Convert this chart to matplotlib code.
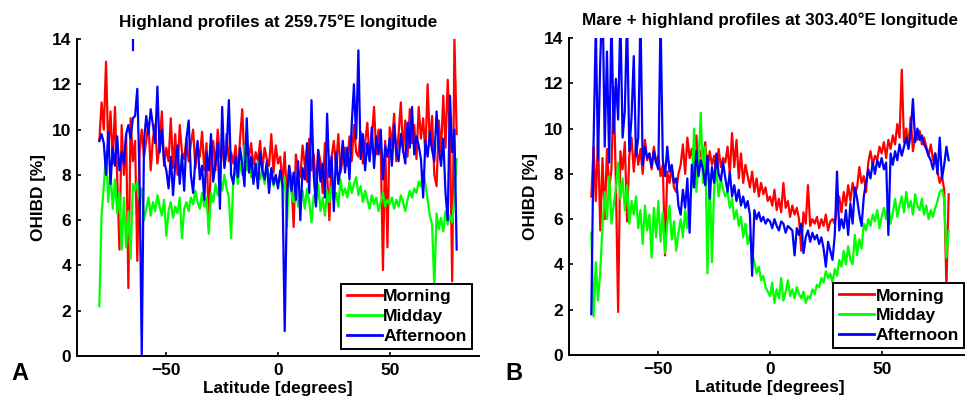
import numpy as np
import matplotlib
matplotlib.use("Agg")
import matplotlib.pyplot as plt

# latitud de -80 a 80 en pasos de 1 grado
latitud = np.arange(-80, 81)

# --- Panel A: highland, 259.75E ---
manana_a = [
    9.5, 11.2, 10.0, 13.0, 9.0, 10.8, 8.5, 11.0, 7.8, 4.7,
    10.2, 8.0, 9.8, 3.0, 10.5, 8.6, 9.5, 4.2, 9.0, 10.0,
    8.8, 9.5, 10.3, 8.2, 9.6, 10.2, 8.5, 9.3, 10.8, 8.4,
    9.2, 8.6, 10.5, 8.3, 9.8, 8.0, 10.2, 9.0, 8.7, 9.6,
    8.6, 9.4, 10.0, 8.3, 9.2, 8.8, 9.9, 8.2, 9.4, 5.7,
    8.7, 9.5, 8.2, 10.0, 8.8, 9.2, 8.4, 9.8, 8.6, 9.0,
    8.5, 9.3, 8.0, 9.6, 10.9, 8.4, 9.1, 8.8, 9.4, 8.3,
    9.0, 8.6, 9.5, 8.2, 9.2, 8.7, 8.4, 9.8, 8.1, 9.3,
    8.5, 8.8, 7.6, 9.0, 6.9, 8.4, 7.8, 5.7, 8.9, 8.2,
    7.9, 9.3, 8.4, 7.7, 9.6, 8.2, 8.9, 7.5, 9.1, 8.6,
    7.2, 9.4, 8.0, 6.0, 8.8, 9.5, 8.3, 9.8, 8.1, 8.7,
    9.2, 8.4, 9.7, 8.6, 10.2, 9.0, 8.8, 9.9, 8.5, 9.4,
    10.3, 8.7, 9.6, 11.0, 8.9, 10.0, 9.2, 3.8, 9.5, 4.8,
    10.1, 9.3, 10.7, 8.6, 9.8, 11.2, 9.0, 10.4, 8.8, 10.9,
    9.4, 10.2, 8.7, 11.0, 9.6, 10.5, 8.9, 12.0, 9.3, 10.6,
    8.0, 7.5, 10.4, 9.0, 11.5, 9.2, 12.2, 9.6, 3.3, 14.0, 9.8,
]
mediodia_a = [
    2.2, 6.2, 7.5, 9.0, 6.8, 8.2, 6.5, 7.8, 6.3, 7.2,
    4.7, 7.0, 4.8, 6.4, 4.3, 7.6, 7.3, 7.7, 6.9, 7.4,
    6.0, 6.5, 7.0, 6.2, 6.8, 6.4, 7.1, 6.6, 6.2, 6.9,
    5.3, 6.4, 6.8, 6.1, 6.6, 6.3, 7.0, 5.2, 6.5, 6.8,
    6.4, 7.0, 6.7, 7.3, 6.8, 6.5, 7.2, 6.6, 7.0, 5.4,
    7.2, 6.8, 7.6, 7.1, 7.8, 7.3, 8.0, 7.4, 7.0, 5.2,
    7.8, 8.3, 7.6, 8.5, 8.0, 9.3, 8.2, 8.8, 7.9, 8.4,
    8.0, 8.6, 7.8, 8.2, 7.6, 8.4, 7.9, 8.1, 7.5, 7.8,
    7.6, 8.0, 7.4, 7.9, 5.7, 8.3, 7.2, 6.8, 7.5, 6.6,
    6.9, 7.3, 6.5, 7.4, 6.8, 5.9, 7.1, 6.7, 7.6, 6.4,
    7.0, 6.2, 7.3, 6.8, 7.5, 6.9, 7.2, 6.6, 7.8, 7.1,
    7.4, 7.0, 7.7, 7.2, 7.6, 7.9, 7.1, 7.5, 6.8, 7.3,
    6.9, 6.5, 7.1, 6.7, 7.0, 6.4, 6.8, 7.2, 6.6, 6.9,
    6.7, 7.0, 6.5, 6.9, 6.6, 7.1, 6.8, 6.4, 6.9, 7.3,
    7.0, 7.4, 7.2, 7.7, 7.5, 8.2, 7.6, 6.9, 6.2, 5.8,
    3.0, 6.3, 5.6, 6.1, 5.5, 6.4, 5.8, 6.2, 5.9, 7.0, 8.7,
]
tarde_a = [
    9.5, 9.8, 9.4, 8.0, 9.9, 7.6, 9.2, 8.4, 9.7, 8.2,
    9.0, 8.5, 9.8, 10.2, 9.6, 10.5, 10.6, 11.8, 8.0, 0.0,
    9.5, 10.6, 9.8, 10.9, 10.2, 9.4, 11.9, 9.0, 10.0, 8.6,
    8.2, 7.4, 8.8, 7.1, 8.5, 9.3, 7.6, 8.9, 7.3, 9.6,
    10.4, 8.0, 7.2, 8.7, 9.5, 7.8, 8.4, 6.9, 9.0, 8.2,
    9.8, 7.7, 8.5, 9.4, 6.5, 11.0, 8.3, 9.1, 11.3, 8.0,
    7.6, 8.8, 7.9, 9.2, 8.4, 7.5, 10.5, 8.1, 8.8, 7.6,
    8.5, 7.4, 9.0, 8.2, 7.8, 8.6, 7.2, 8.3, 7.6, 8.0,
    7.4, 8.2, 7.6, 1.1, 7.0, 8.4, 7.3, 8.1, 6.9, 8.6,
    6.0, 8.3, 7.8, 9.4, 7.2, 11.3, 8.0, 6.6, 9.1, 7.7,
    8.5, 7.0, 10.7, 7.9, 8.8, 6.4, 9.0, 7.6, 8.3, 9.5,
    8.1, 9.2, 7.8, 10.2, 12.0, 9.6, 13.5, 8.7, 9.8, 8.2,
    9.4, 8.6, 10.1, 8.3, 9.7, 8.9, 10.0, 7.8, 9.3, 8.8,
    9.6, 8.4, 10.2, 9.0, 8.6, 9.8, 9.1, 8.5, 10.3, 9.2,
    11.0, 8.9, 9.7, 9.3, 8.7, 7.0, 9.5, 8.8, 9.9, 9.1,
    8.6, 10.8, 9.2, 8.4, 9.6, 7.2, 6.0, 11.5, 9.0, 10.0, 4.7,
]
# trozo suelto de la curva azul que sale por arriba cerca de -65
tarde_a_pico_lat = [-64.8, -64.8]
tarde_a_pico = [13.5, 14.5]

# --- Panel B: mare + highland, 303.40E ---
manana_b = [
    7.0, 9.2, 6.8, 9.6, 5.5, 8.7, 6.0, 9.1, 7.3, 8.2,
    11.8, 7.6, 1.9, 9.0, 8.2, 9.4, 5.9, 8.8, 9.6, 8.1,
    9.3, 8.4, 9.1, 8.0, 9.5, 8.6, 8.9, 8.2, 9.2, 8.5,
    8.8, 7.9, 8.4, 4.4, 8.1, 7.6, 8.3, 7.4, 7.2, 8.0,
    8.4, 9.3, 8.0, 9.6, 8.7, 9.1, 8.2, 9.7, 8.5, 9.0,
    8.6, 9.4, 8.1, 9.0, 8.4, 8.8, 7.9, 9.1, 8.3, 8.7,
    8.5, 9.2, 8.0, 9.8, 8.3, 9.5, 7.8, 8.9, 7.6, 8.4,
    7.9, 7.4, 8.1, 7.2, 7.8, 7.0, 7.6, 7.1, 7.4, 6.8,
    7.0, 6.6, 7.3, 6.4, 6.9, 6.3, 7.6, 6.5, 6.8, 6.1,
    6.6, 6.2, 6.5, 6.0, 4.6, 6.3, 5.8, 7.5, 5.7, 6.0,
    5.8, 6.1, 5.6, 6.0, 5.7, 6.2, 5.5, 5.9, 6.0, 5.8,
    6.5, 7.0, 6.3, 7.2, 6.6, 7.5, 6.8, 7.6, 7.1, 7.4,
    8.3, 7.6, 7.9, 7.2, 8.5, 9.0, 8.4, 8.8, 8.6, 9.2,
    8.9, 9.4, 8.7, 9.5, 9.1, 9.7, 9.3, 10.2, 9.6, 12.6,
    9.4, 10.0, 9.2, 10.5, 9.0, 9.8, 9.5, 9.9, 9.3, 9.6,
    9.2, 8.8, 9.3, 8.6, 8.9, 8.1, 7.6, 7.9, 7.3, 3.0, 7.1,
]
mediodia_b = [
    5.4, 1.7, 4.1, 2.4, 3.7, 5.7, 7.2, 6.0, 7.9, 5.8,
    6.6, 7.4, 8.5, 6.9, 7.8, 6.4, 7.5, 5.8, 6.8, 6.2,
    7.0, 5.6, 6.4, 4.9, 6.6, 5.5, 6.2, 4.3, 6.5, 5.2,
    6.8, 5.0, 6.3, 4.5, 5.8, 6.6, 5.1, 5.9, 4.6, 5.4,
    6.0, 5.2, 6.4, 5.6, 6.8, 7.5, 10.0, 7.2, 8.4, 10.7,
    7.6, 9.2, 3.6, 8.0, 4.1, 7.4, 8.2, 7.0, 7.8, 7.3,
    7.0, 7.2, 6.5, 6.9, 6.0, 6.4, 5.7, 6.1, 5.2, 5.8,
    4.9, 5.3, 4.5, 4.1, 3.6, 3.9, 3.3, 3.5, 3.0, 2.8,
    2.6, 3.2, 2.3, 2.9, 2.5, 3.4, 2.4, 2.8, 3.3, 2.6,
    2.9, 2.5, 3.0, 2.7, 2.5, 2.8, 2.3, 2.6, 2.5, 2.9,
    2.7, 3.1, 3.0, 3.4, 3.2, 3.7, 3.4, 3.6, 3.2, 3.8,
    3.5, 4.2, 3.9, 4.6, 4.0, 4.8, 4.2, 4.0, 5.3, 4.4,
    5.1, 4.7, 5.8, 5.5, 6.0, 5.7, 6.2, 5.9, 6.4, 5.6,
    6.1, 6.5, 6.0, 6.7, 5.8, 6.3, 6.9, 6.1, 6.6, 7.0,
    6.3, 7.2, 6.5, 6.8, 6.2, 7.1, 6.6, 6.4, 6.9, 6.2,
    6.6, 6.0, 6.4, 6.1, 6.5, 6.8, 7.2, 7.3, 6.9, 4.3, 5.5,
]
tarde_b = [
    1.8, 9.4, 14.5, 8.6, 13.0, 16.0, 9.2, 13.4, 8.5, 15.0,
    9.8, 12.2, 10.4, 15.0, 9.6, 10.8, 15.0, 9.0, 10.5, 13.2,
    8.8, 9.6, 15.0, 8.4, 9.2, 8.7, 8.9, 8.3, 9.0, 8.5,
    8.2, 15.0, 8.6, 7.9, 9.2, 8.1, 8.4, 7.6, 7.8, 6.6,
    6.2, 7.3, 6.5, 7.8, 5.4, 8.4, 7.4, 9.0, 7.9, 8.6,
    8.2, 7.5, 8.8, 6.9, 8.3, 7.6, 8.9, 8.0, 7.7, 8.5,
    7.8, 7.2, 8.1, 7.0, 7.5, 6.8, 7.3, 6.6, 7.0, 6.5,
    6.8, 6.2, 3.5, 6.4, 6.0, 6.3, 5.9, 6.1, 5.8, 6.0,
    5.9, 5.6, 6.0, 5.7, 5.5, 5.9, 5.8, 5.4, 5.7, 5.6,
    5.5, 4.4, 5.6, 5.3, 5.8, 4.5, 5.2, 5.5, 5.0, 5.4,
    5.1, 5.3, 4.9, 5.2, 4.7, 3.9, 5.0, 4.6, 4.2, 5.3,
    8.1, 5.5, 6.0, 5.6, 6.4, 5.3, 6.7, 5.8, 7.4, 6.9,
    6.2, 5.7, 7.0, 7.6, 8.2, 7.8, 8.5, 8.0, 8.6, 8.3,
    8.7, 8.2, 8.5, 5.3, 8.9, 8.4, 9.0, 8.6, 9.3, 8.8,
    9.2, 9.6, 9.1, 9.8, 11.3, 9.4, 10.0, 9.5, 9.7, 9.3,
    9.1, 8.8, 8.6, 8.2, 8.9, 8.0, 9.6, 7.8, 8.4, 9.2, 8.6,
]

titulos = ["Highland profiles at 259.75°E longitude",
           "Mare + highland profiles at 303.40°E longitude"]
etiquetas = ["Morning", "Midday", "Afternoon"]
colores = ["#ff0000", "#00ff00", "#0000ff"]
letras = ["A", "B"]

plt.rcParams['font.family'] = ['Liberation Sans', 'DejaVu Sans']
plt.rcParams['font.weight'] = 'bold'

fig = plt.figure(figsize=(9.65, 3.97), dpi=100)
ax_a = fig.add_axes([77 / 965, 41 / 397, 402 / 965, 317 / 397])
ax_b = fig.add_axes([569 / 965, 42 / 397, 402 / 965, 317 / 397])

datos = [(manana_a, mediodia_a, tarde_a), (manana_b, mediodia_b, tarde_b)]

for ax, series, titulo, letra in zip([ax_a, ax_b], datos, titulos, letras):
    for valores, nombre, color in zip(series, etiquetas, colores):
        ax.plot(latitud, valores, color=color, lw=1.6, label=nombre)
    ax.set_xlim(-90, 90)
    ax.set_ylim(0, 14)
    ax.set_xticks([-50, 0, 50])
    ax.set_yticks(range(0, 15, 2))
    ax.spines['top'].set_visible(False)
    ax.spines['right'].set_visible(False)
    ax.spines['left'].set_linewidth(1.4)
    ax.spines['bottom'].set_linewidth(1.4)
    ax.tick_params(direction='in', length=3, width=1.2, labelsize=12.5, pad=4)
    ax.tick_params(axis='x', pad=5)
    for t in ax.get_xticklabels() + ax.get_yticklabels():
        t.set_fontweight('bold')
    ax.set_title(titulo, fontsize=12.3, fontweight='bold', pad=9)
    ax.set_xlabel("Latitude [degrees]", fontsize=12.4, fontweight='bold', labelpad=2.5)
    ax.set_ylabel("OHIBD [%]", fontsize=12.4, fontweight='bold', labelpad=4)
    leg = ax.legend(loc='lower right', frameon=True, fancybox=False,
                    edgecolor='black', framealpha=1, handlelength=2.0,
                    handletextpad=0.1, labelspacing=0.25, borderpad=0.3,
                    borderaxespad=0.4, prop={'weight': 'bold', 'size': 12.6})
    leg.get_frame().set_linewidth(1.4)
    for linea in leg.get_lines():
        linea.set_linewidth(2)

ax_a.plot(tarde_a_pico_lat, tarde_a_pico, color=colores[2], lw=1.6)

fig.text(20 / 965, 1 - 374 / 397, letras[0], fontsize=17, fontweight='bold',
         ha='center', va='center')
fig.text(514 / 965, 1 - 374 / 397, letras[1], fontsize=17, fontweight='bold',
         ha='center', va='center')

fig.savefig("out.png", dpi=100)
